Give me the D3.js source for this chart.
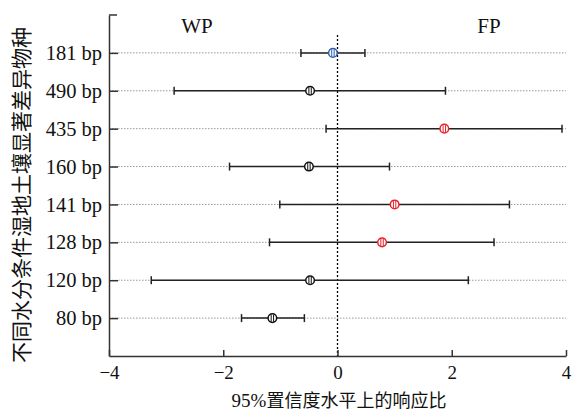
<!DOCTYPE html>
<html><head><meta charset="utf-8">
<script src="https://cdn.jsdelivr.net/npm/d3@7"></script>
<style>body{margin:0;background:#fff}</style>
</head><body>
<svg id="c" width="572" height="411"></svg>
<script>
const categories = ["181 bp","490 bp","435 bp","160 bp","141 bp","128 bp","120 bp","80 bp"];
const means = [-0.08,-0.48,1.87,-0.50,1.00,0.78,-0.48,-1.14];
const lower = [-0.64,-2.86,-0.20,-1.89,-1.01,-1.19,-3.26,-1.68];
const upper = [0.48,1.89,3.93,0.91,3.01,2.74,2.29,-0.58];
const colors = ["#2a5db0","#111","#e8232a","#111","#e8232a","#e8232a","#111","#111"];
const xTicks = [-4,-2,0,2,4];
const groupLabels = ["WP","FP"];
const xTitleNum = "95%";
const xTitle = "置信度水平上的响应比";
const yTitle = "不同水分条件湿地土壤显著差异物种";

const svg = d3.select("#c");
const L=109,R=566,T=15,B=356;
const x = d3.scaleLinear().domain([-4,4]).range([L,R]);
const y = d3.scalePoint().domain(categories).range([T,B]).padding(1);
const serif = "'Liberation Serif','Times New Roman',serif";
const cjk = "'Noto Sans CJK SC','Liberation Serif',serif";

// grid lines
svg.append("g").selectAll("line").data(categories).join("line")
  .attr("x1",L).attr("x2",R).attr("y1",d=>y(d)).attr("y2",d=>y(d))
  .attr("stroke","#999").attr("stroke-width",1).attr("stroke-dasharray","1.5,1.5");

// zero line
svg.append("line").attr("x1",x(0)).attr("x2",x(0)).attr("y1",35).attr("y2",B)
  .attr("stroke","#000").attr("stroke-width",1.3).attr("stroke-dasharray","2,2");

// axes
const xa = svg.append("g").attr("transform",`translate(0,${B})`)
  .call(d3.axisBottom(x).tickValues(xTicks).tickSizeInner(-6).tickSizeOuter(0).tickFormat(d=>d<0?"\u2212"+Math.abs(d):d).tickPadding(10));
xa.select(".domain").attr("stroke","#333").attr("stroke-width",1.5);
xa.selectAll(".tick line").attr("stroke","#333").attr("stroke-width",1.5);
xa.selectAll("text").attr("font-family",serif).attr("font-size",19).attr("fill","#111");

const ya = svg.append("g").attr("transform",`translate(${L},0)`)
  .call(d3.axisLeft(y).tickSizeInner(-9).tickSizeOuter(0).tickPadding(7));
ya.select(".domain").attr("stroke","#333").attr("stroke-width",1.5);
ya.selectAll(".tick line").attr("stroke","#333").attr("stroke-width",1.5);
ya.selectAll("text").attr("font-family",serif).attr("font-size",20.5).attr("fill","#111");
// top stub
svg.append("line").attr("x1",L).attr("x2",L+8).attr("y1",T).attr("y2",T).attr("stroke","#333").attr("stroke-width",1.5);

// error bars
const rows = categories.map((c,i)=>({c,m:means[i],lo:lower[i],hi:upper[i],col:colors[i]}));
const g = svg.append("g");
g.selectAll("line.bar").data(rows).join("line").attr("class","bar")
  .attr("x1",d=>x(d.lo)).attr("x2",d=>x(d.hi)).attr("y1",d=>y(d.c)).attr("y2",d=>y(d.c))
  .attr("stroke","#222").attr("stroke-width",1.5);
g.selectAll("line.capl").data(rows).join("line").attr("class","capl")
  .attr("x1",d=>x(d.lo)).attr("x2",d=>x(d.lo)).attr("y1",d=>y(d.c)-4).attr("y2",d=>y(d.c)+4)
  .attr("stroke","#222").attr("stroke-width",1.5);
g.selectAll("line.caph").data(rows).join("line").attr("class","caph")
  .attr("x1",d=>x(d.hi)).attr("x2",d=>x(d.hi)).attr("y1",d=>y(d.c)-4).attr("y2",d=>y(d.c)+4)
  .attr("stroke","#222").attr("stroke-width",1.5);
const pts = g.selectAll("g.pt").data(rows).join("g").attr("class","pt")
  .attr("transform",d=>`translate(${x(d.m)},${y(d.c)})`);
pts.append("circle").attr("r",4.3).attr("fill","#fff").attr("stroke",d=>d.col).attr("stroke-width",1.5);
pts.append("line").attr("x1",-1.2).attr("x2",-1.2).attr("y1",-3.5).attr("y2",3.5).attr("stroke",d=>d.col).attr("stroke-width",1);
pts.append("line").attr("x1",1.2).attr("x2",1.2).attr("y1",-3.5).attr("y2",3.5).attr("stroke",d=>d.col).attr("stroke-width",1);

// group labels
svg.selectAll("text.grp").data(groupLabels).join("text").attr("class","grp")
  .attr("x",(d,i)=>i===0?197:489).attr("y",33).attr("text-anchor","middle")
  .attr("font-family",serif).attr("font-size",21).attr("fill","#111").text(d=>d);

// titles
const xt = svg.append("text").attr("x",339).attr("y",407).attr("text-anchor","middle")
  .attr("font-size",18).attr("fill","#111");
xt.append("tspan").attr("font-family",serif).attr("font-size",19).text(xTitleNum);
xt.append("tspan").attr("font-family",cjk).text(xTitle);
svg.append("text").attr("transform","translate(29,195) rotate(-90)").attr("text-anchor","middle")
  .attr("font-family",cjk).attr("font-size",21).attr("fill","#111").text(yTitle);
</script>
</body></html>
